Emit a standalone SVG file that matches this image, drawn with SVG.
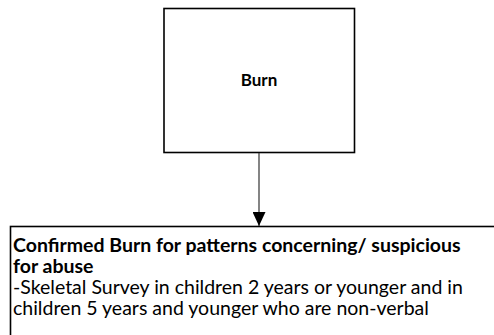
<svg xmlns="http://www.w3.org/2000/svg" width="494" height="335" viewBox="0 0 494 335">
  <style>
    .box { fill: #ffffff; stroke: #000000; stroke-width: 1.6; }
    .t { font-family: "Lato", "Liberation Sans", sans-serif; font-size: 19.5px; fill: #000000; }
    .title { font-size: 17px; }
    .b { font-weight: bold; }
    .edge { stroke: #333333; stroke-width: 1.2; fill: none; }
  </style>
  <defs>
    <marker id="arrow" viewBox="0 0 14 13" refX="14" refY="6.5" markerWidth="14" markerHeight="13" markerUnits="userSpaceOnUse" orient="auto">
      <path d="M0,0 L14,6.5 L0,13 Z" fill="#000000"/>
    </marker>
  </defs>
  <rect width="494" height="335" fill="#ffffff"/>

  <g id="node-burn">
    <rect class="box" x="164" y="8.5" width="190.5" height="144"/>
    <text class="t b title" x="259" y="86" text-anchor="middle">Burn</text>
  </g>

  <g id="node-confirmed">
    <rect class="box" x="10.5" y="226.5" width="500" height="130"/>
    <text class="t b" x="13" y="252">Confirmed Burn for patterns concerning/ suspicious</text>
    <text class="t b" x="13" y="273">for abuse</text>
    <text class="t" x="13" y="294">-Skeletal Survey in children 2 years or younger and in</text>
    <text class="t" x="13" y="315">children 5 years and younger who are non-verbal</text>
  </g>

  <g id="connectors">
    <line class="edge" x1="259" y1="153" x2="259" y2="226" marker-end="url(#arrow)"/>
  </g>
</svg>
